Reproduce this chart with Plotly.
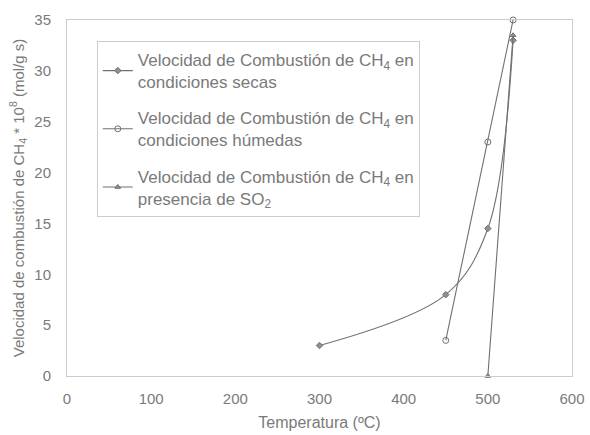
import plotly.graph_objects as go

# Temperature (ºC) and combustion rate of CH4 (x 10^8 mol/g s)
temp_secas = [300, 450, 500, 530]
vel_secas = [3.0, 8.0, 14.5, 33.0]

temp_humedas = [450, 500, 530]
vel_humedas = [3.5, 23.0, 35.0]

temp_so2 = [500, 530]
vel_so2 = [0.0, 33.5]

names = [
    "Velocidad de Combustión de CH<sub>4</sub> en<br>condiciones secas",
    "Velocidad de Combustión de CH<sub>4</sub> en<br>condiciones húmedas",
    "Velocidad de Combustión de CH<sub>4</sub> en<br>presencia de SO<sub>2</sub>",
]

x_ticks = [0, 100, 200, 300, 400, 500, 600]
y_ticks = [0, 5, 10, 15, 20, 25, 30, 35]

line_col = "#707070"
text_col = "#7a7a7a"
axis_col = "#cccccc"
font_fam = "Liberation Sans, Arial, sans-serif"

fig = go.Figure()
fig.add_trace(go.Scatter(
    x=temp_secas, y=vel_secas, name=names[0], legendgroup="a",
    mode="lines+markers", line=dict(color=line_col, width=1.1, shape="spline", smoothing=1.0),
    marker=dict(symbol="diamond", size=5, color="#909090", line=dict(color=line_col, width=1)),
    cliponaxis=False,
))
fig.add_trace(go.Scatter(
    x=temp_humedas, y=vel_humedas, name=names[1], legendgroup="b",
    mode="lines+markers", line=dict(color=line_col, width=1.1),
    marker=dict(symbol="circle-open", size=6, color=line_col, line=dict(width=1)),
    cliponaxis=False,
))
fig.add_trace(go.Scatter(
    x=temp_so2, y=vel_so2, name=names[2], legendgroup="c",
    mode="lines+markers", line=dict(color=line_col, width=1.1),
    marker=dict(symbol="triangle-up", size=5, color="#909090", line=dict(color=line_col, width=1)),
    cliponaxis=False,
))

fig.update_layout(
    width=590, height=435,
    margin=dict(l=67, r=18, t=20, b=59, autoexpand=False),
    paper_bgcolor="white", plot_bgcolor="white",
    font=dict(family=font_fam, size=15, color=text_col),
    showlegend=True,
    legend=dict(
        x=0.059, y=0.941, xanchor="left", yanchor="top",
        bordercolor=axis_col, borderwidth=1, bgcolor="white",
        font=dict(family=font_fam, size=17, color=text_col),
        tracegroupgap=11, itemwidth=30,
    ),
)
fig.update_xaxes(
    range=[0, 600], tickvals=x_ticks, showgrid=False, zeroline=False,
    showline=True, linecolor=axis_col, linewidth=1, mirror=True,
    ticks="", ticklabelstandoff=9, tickfont=dict(size=15, color=text_col),
    title=dict(text="Temperatura (ºC)", font=dict(size=16, color=text_col), standoff=10),
)
fig.update_yaxes(
    range=[0, 35], tickvals=y_ticks, showgrid=False, zeroline=False,
    showline=True, linecolor=axis_col, linewidth=1, mirror=True,
    ticks="", ticklabelstandoff=12, tickfont=dict(size=15, color=text_col),
    title=dict(text="Velocidad de combustión de CH<sub>4</sub> * 10<sup>8</sup> (mol/g s)",
               font=dict(size=15, color=text_col), standoff=6),
)

fig.write_html("out.html")
